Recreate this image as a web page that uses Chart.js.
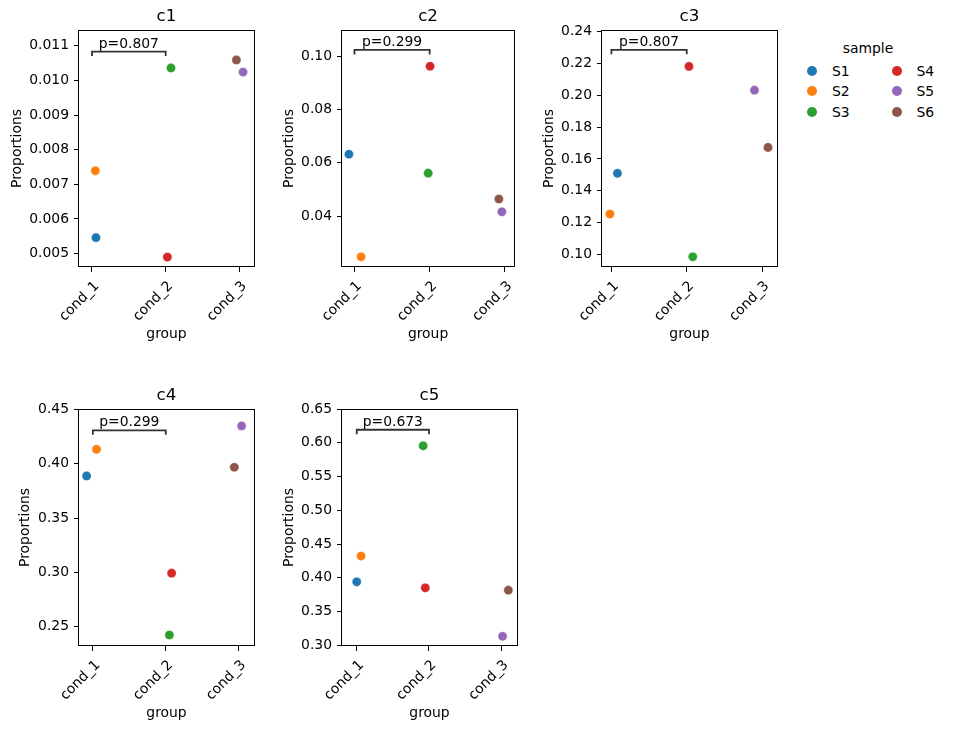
<!DOCTYPE html>
<html>
<head>
<meta charset="utf-8">
<script src="https://cdn.jsdelivr.net/npm/chart.js@4.4.1/dist/chart.umd.min.js"></script>
<style>
  body { margin: 0; width: 954px; height: 730px; background: #fff; position: relative; overflow: hidden; font-family: "DejaVu Sans", sans-serif; }
  .panel { position: absolute; width: 260px; height: 347px; }
  #legend { position: absolute; left: 800px; top: 30px; width: 154px; height: 100px; font-size: 13.9px; color: #000; }
  #legend .ttl { position: absolute; left: 0; width: 136px; top: 10px; text-align: center; }
  #legend .it { position: absolute; height: 16px; line-height: 16px; }
  #legend .dot { position: absolute; width: 10px; height: 10px; border-radius: 50%; top: 3px; left: 0; }
  #legend .lab { position: absolute; left: 25px; top: 0; }
</style>
</head>
<body>
<div class="panel" style="left:0px;top:0px"><canvas id="c0" width="260" height="347"></canvas></div>
<div class="panel" style="left:263px;top:0px"><canvas id="c1" width="260" height="347"></canvas></div>
<div class="panel" style="left:523px;top:0px"><canvas id="c2" width="260" height="347"></canvas></div>
<div class="panel" style="left:0px;top:379px"><canvas id="c3" width="260" height="347"></canvas></div>
<div class="panel" style="left:263px;top:379px"><canvas id="c4" width="260" height="347"></canvas></div>
<div id="legend"></div>

<script>
// data
const groups = ['cond_1', 'cond_2', 'cond_3'];
const samples = ['S1', 'S2', 'S3', 'S4', 'S5', 'S6'];
const sampleGroup = [0, 0, 1, 1, 2, 2];
const sampleColors = ['#1f77b4', '#ff7f0e', '#2ca02c', '#d62728', '#9467bd', '#8c564b'];
const clusters = ['c1', 'c2', 'c3', 'c4', 'c5'];

const propC1 = [0.00546, 0.00739, 0.01036, 0.00490, 0.01024, 0.01059];
const propC2 = [0.0632, 0.0247, 0.0561, 0.0962, 0.0416, 0.0464];
const propC3 = [0.151, 0.1255, 0.0987, 0.218, 0.2031, 0.1672];
const propC4 = [0.3887, 0.4132, 0.2424, 0.2993, 0.4347, 0.3967];
const propC5 = [0.394, 0.4322, 0.5955, 0.3851, 0.3134, 0.3817];

// horizontal jitter of each dot (in group units)
const jitC1 = [0.054, 0.046, 0.072, 0.023, 0.049, -0.041];
const jitC2 = [-0.074, 0.088, -0.02, 0.005, -0.04, -0.08];
const jitC3 = [0.08, -0.02, 0.08, 0.03, -0.1, 0.08];
const jitC4 = [-0.086, 0.05, 0.05, 0.08, 0.04, -0.06];
const jitC5 = [0.0, 0.06, -0.08, -0.05, 0.02, 0.1];

const pValues = ['0.807', '0.299', '0.807', '0.299', '0.673'];
const bracketY = [0.01083, 0.10234, 0.2284, 0.4307, 0.6193];

const yTicksC1 = [0.005, 0.006, 0.007, 0.008, 0.009, 0.010, 0.011];
const yTicksC2 = [0.04, 0.06, 0.08, 0.10];
const yTicksC3 = [0.10, 0.12, 0.14, 0.16, 0.18, 0.20, 0.22, 0.24];
const yTicksC4 = [0.25, 0.30, 0.35, 0.40, 0.45];
const yTicksC5 = [0.30, 0.35, 0.40, 0.45, 0.50, 0.55, 0.60, 0.65];

const props = [propC1, propC2, propC3, propC4, propC5];
const jitters = [jitC1, jitC2, jitC3, jitC4, jitC5];
const yTicks = [yTicksC1, yTicksC2, yTicksC3, yTicksC4, yTicksC5];
const yDecimals = [3, 2, 2, 2, 2];

// axis limits per panel
const yLims = [[0.004613, 0.011454], [0.0209, 0.1098], [0.0923, 0.2408], [0.2323, 0.4503], [0.299, 0.65]];
const xLims = [[-0.176, 2.198], [-0.166, 2.123], [-0.125, 2.199], [-0.19, 2.21], [-0.204, 2.22]];
const yTitlePad = [9, 18, 18, 17.5, 18];

const FONT = '"DejaVu Sans", sans-serif';
Chart.defaults.font.family = FONT;
Chart.defaults.color = '#000';

const boxPlugin = {
  id: 'box',
  afterDatasetsDraw(chart) {
    const a = chart.chartArea, ctx = chart.ctx;
    const o = chart.options.plugins.box;
    ctx.save();
    ctx.strokeStyle = '#000';
    ctx.lineWidth = 1;
    ctx.strokeRect(Math.round(a.left) - 0.5, Math.round(a.top) + 0.5, Math.round(a.right - a.left) + 1, Math.round(a.bottom - a.top) - 1);
    // panel title, centred on the plot area
    ctx.fillStyle = '#000';
    ctx.textAlign = 'center';
    ctx.textBaseline = 'middle';
    ctx.font = '16.7px ' + FONT;
    ctx.fillText(o.title, (a.left + a.right) / 2, a.top - 13);
    // p-value label above the bracket
    const xs = chart.scales.x, ys = chart.scales.y;
    ctx.font = '13.9px ' + FONT;
    ctx.textBaseline = 'alphabetic';
    ctx.fillText('p=' + o.p, xs.getPixelForValue(0.5), ys.getPixelForValue(o.bar) - 4);
    ctx.restore();
  }
};

clusters.forEach((name, k) => {
  const [ymin, ymax] = yLims[k];
  const tip = bracketY[k] - 0.019 * (ymax - ymin);
  const datasets = samples.map((s, i) => ({
    label: s,
    data: [{ x: sampleGroup[i] + jitters[k][i], y: props[k][i] }],
    backgroundColor: sampleColors[i],
    borderColor: 'rgba(255,255,255,0.7)',
    borderWidth: 0.5,
    pointRadius: 4.6,
    showLine: false
  }));
  datasets.unshift({
    label: 'bracket',
    data: [{ x: 0, y: tip }, { x: 0, y: bracketY[k] }, { x: 1, y: bracketY[k] }, { x: 1, y: tip }],
    showLine: true,
    borderColor: '#333',
    borderWidth: 1.8,
    pointRadius: 0,
    fill: false
  });

  new Chart(document.getElementById('c' + k), {
    type: 'scatter',
    data: { datasets },
    options: {
      responsive: false,
      animation: false,
      events: [],
      layout: { padding: { left: 0, right: 6, top: 30, bottom: 0 } },
      plugins: {
        legend: { display: false },
        tooltip: { enabled: false },
        title: { display: false },
        box: { p: pValues[k], bar: bracketY[k], title: name }
      },
      scales: {
        x: {
          type: 'linear',
          min: xLims[k][0],
          max: xLims[k][1],
          afterBuildTicks: (s) => { s.ticks = groups.map((g, i) => ({ value: i })); },
          afterFit: (s) => { s.height = 80; },
          ticks: {
            callback: (v) => groups[Math.round(v)],
            minRotation: 45, maxRotation: 45,
            autoSkip: false,
            padding: 6,
            labelOffset: 5,
            color: '#000',
            font: { size: 13.9 }
          },
          grid: { drawOnChartArea: false, drawTicks: true, tickLength: 5, color: '#000', lineWidth: 1 },
          border: { display: false },
          title: { display: true, text: 'group', color: '#000', font: { size: 13.9 }, padding: { top: 0, bottom: 4 } }
        },
        y: {
          type: 'linear',
          min: ymin,
          max: ymax,
          afterBuildTicks: (s) => { s.ticks = yTicks[k].map(v => ({ value: v })); },
          afterFit: (s) => { s.width = 79; },
          ticks: {
            callback: (v) => v.toFixed(yDecimals[k]),
            padding: 5,
            color: '#000',
            font: { size: 13.9 }
          },
          grid: { drawOnChartArea: false, drawTicks: true, tickLength: 5, color: '#000', lineWidth: 1 },
          border: { display: false },
          title: { display: true, text: 'Proportions', color: '#000', font: { size: 13.9 }, padding: { top: yTitlePad[k], bottom: 0 } }
        }
      }
    },
    plugins: [boxPlugin]
  });
});

// legend (two columns)
const leg = document.getElementById('legend');
leg.innerHTML = '<div class="ttl">sample</div>';
samples.forEach((s, i) => {
  const col = Math.floor(i / 3), row = i % 3;
  const it = document.createElement('div');
  it.className = 'it';
  it.style.left = (7 + col * 84.5) + 'px';
  it.style.top = (32.7 + row * 20.5) + 'px';
  it.innerHTML = '<span class="dot" style="background:' + sampleColors[i] + '"></span><span class="lab">' + s + '</span>';
  leg.appendChild(it);
});
</script>
</body>
</html>
